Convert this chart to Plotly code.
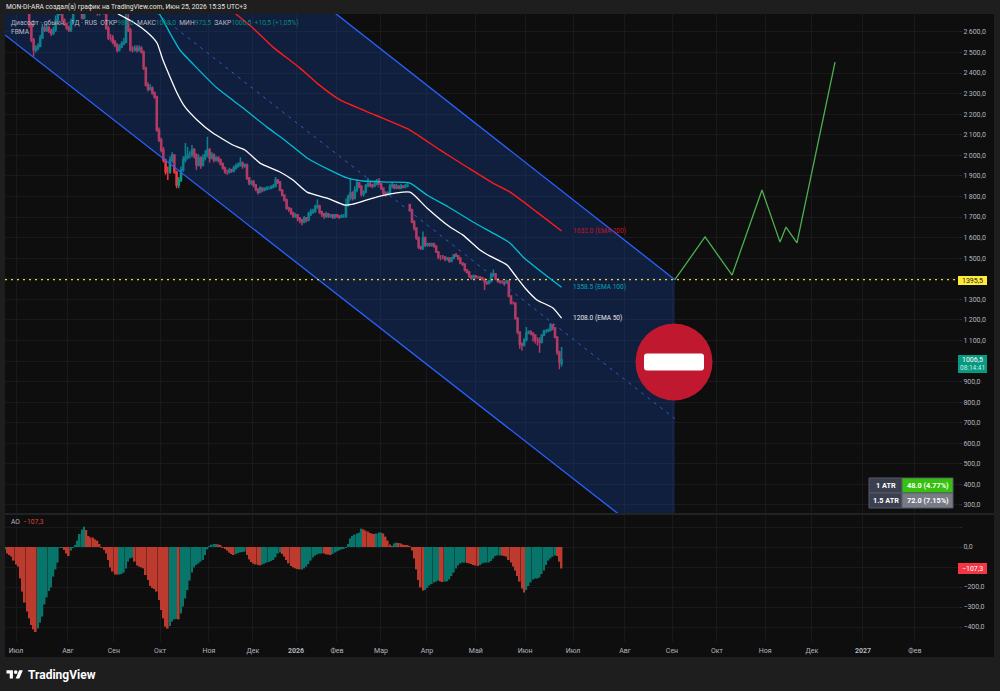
import plotly.graph_objects as go

W, H = 1000, 691

# Daily OHLC for the stock, one row of ten sessions per source line
opens = [
 2760,2780,2800,2770,2790,2820,2810,2790,2800,2770,
 2745,2720,2633,2560,2512,2522,2531,2570,2619,2609,
 2619,2604,2594,2609,2658,2687,2706,2658,2638,2619,
 2609,2648,2697,2720,2740,2700,2667,2710,2730,2715,
 2735,2700,2720,2690,2700,2720,2690,2619,2570,2570,
 2550,2536,2512,2526,2541,2550,2658,2609,2512,2512,
 2521,2512,2521,2502,2424,2342,2322,2327,2303,2283,
 2123,2074,2026,1977,1919,1919,1977,2001,1919,1856,
 1880,1928,1977,1991,2001,2001,2026,2001,1953,1987,
 1953,1987,2001,2026,1987,2001,1977,1987,1977,1958,
 1938,1919,1919,1928,1924,1938,1948,1953,1962,1948,
 1953,1890,1865,1870,1856,1836,1821,1841,1831,1836,
 1841,1841,1846,1851,1880,1870,1831,1807,1783,1744,
 1739,1720,1705,1710,1695,1685,1676,1695,1685,1715,
 1725,1729,1749,1754,1725,1715,1705,1715,1705,1710,
 1700,1710,1705,1700,1705,1705,1758,1797,1817,1792,
 1831,1865,1851,1812,1822,1851,1860,1855,1851,1860,
 1875,1860,1841,1817,1812,1817,1851,1855,1841,1851,
 1841,1851,1846,1851,1760,1734,1676,1646,1598,1554,
 1549,1598,1564,1569,1564,1569,1559,1530,1505,1505,
 1505,1496,1500,1486,1500,1515,1510,1500,1476,1471,
 1442,1432,1413,1403,1413,1408,1408,1403,1399,1384,
 1379,1389,1418,1423,1399,1389,1384,1384,1379,1389,
 1316,1282,1282,1209,1141,1083,1078,1102,1136,1141,
 1136,1126,1102,1102,1092,1126,1146,1146,1150,1175,
 1160,1116,1044,988,
]
highs = [
 2800,2820,2815,2805,2835,2835,2815,2815,2805,2780,
 2760,2730,2640,2570,2535,2545,2585,2640,2635,2640,
 2630,2615,2625,2680,2720,2730,2715,2665,2645,2630,
 2665,2720,2735,2755,2750,2710,2725,2745,2740,2750,
 2750,2735,2730,2710,2735,2730,2700,2630,2590,2585,
 2560,2545,2540,2555,2570,2720,2700,2620,2530,2535,
 2535,2535,2530,2510,2430,2355,2345,2335,2310,2290,
 2135,2085,2040,1985,1945,1995,2015,2005,1925,1895,
 1945,1995,2060,2040,2020,2050,2035,2010,2005,1995,
 2005,2025,2090,2035,2015,2010,1995,1995,1985,1965,
 1945,1930,1940,1935,1950,1960,1965,1990,1970,1960,
 1960,1895,1880,1880,1860,1840,1850,1845,1845,1850,
 1850,1855,1860,1895,1885,1875,1835,1810,1790,1750,
 1745,1725,1720,1715,1700,1690,1705,1700,1725,1740,
 1740,1760,1785,1760,1730,1720,1725,1720,1715,1715,
 1715,1715,1710,1715,1715,1790,1810,1890,1825,1850,
 1885,1870,1855,1830,1860,1890,1870,1860,1870,1885,
 1890,1865,1845,1825,1825,1860,1870,1860,1860,1855,
 1860,1855,1860,1870,1765,1740,1685,1650,1605,1560,
 1630,1605,1575,1575,1575,1575,1563,1535,1515,1515,
 1510,1505,1505,1505,1520,1525,1515,1505,1480,1475,
 1447,1437,1418,1420,1418,1415,1410,1408,1402,1388,
 1395,1430,1445,1428,1402,1393,1392,1388,1395,1392,
 1320,1290,1285,1212,1145,1090,1110,1165,1150,1150,
 1140,1130,1115,1115,1130,1152,1155,1158,1185,1180,
 1165,1120,1050,1068,
]
lows = [
 2750,2760,2765,2765,2785,2800,2785,2785,2765,2740,
 2710,2620,2550,2480,2500,2510,2525,2565,2600,2600,
 2595,2580,2585,2600,2650,2680,2650,2630,2610,2600,
 2600,2640,2690,2712,2690,2660,2660,2700,2705,2705,
 2690,2695,2680,2680,2695,2685,2610,2560,2555,2540,
 2525,2500,2505,2520,2535,2545,2600,2505,2500,2505,
 2500,2505,2495,2415,2335,2310,2315,2295,2275,2115,
 2065,2015,1965,1905,1880,1910,1965,1910,1840,1840,
 1870,1920,1965,1980,1985,1990,1985,1930,1945,1935,
 1945,1975,1990,1965,1980,1965,1970,1965,1950,1930,
 1910,1905,1910,1915,1918,1930,1940,1945,1935,1940,
 1880,1855,1855,1845,1825,1810,1815,1820,1825,1830,
 1832,1835,1840,1845,1860,1825,1800,1775,1735,1725,
 1710,1695,1695,1680,1670,1660,1670,1675,1680,1705,
 1715,1720,1740,1715,1700,1690,1695,1695,1695,1690,
 1692,1695,1690,1695,1695,1695,1750,1780,1780,1785,
 1820,1840,1800,1800,1815,1845,1845,1840,1845,1855,
 1855,1830,1805,1800,1805,1810,1840,1835,1835,1835,
 1835,1840,1840,1845,1725,1670,1635,1590,1545,1540,
 1540,1555,1555,1555,1555,1550,1525,1495,1490,1495,
 1485,1488,1478,1480,1495,1505,1490,1470,1462,1435,
 1425,1405,1395,1398,1400,1400,1395,1390,1345,1370,
 1372,1382,1410,1392,1380,1375,1375,1370,1375,1310,
 1275,1275,1200,1130,1060,1050,1070,1095,1130,1125,
 1095,1085,1075,1040,1085,1120,1135,1140,1145,1150,
 1110,1030,960,973.5,
]
closes = [
 2780,2800,2770,2790,2820,2810,2790,2800,2770,2745,
 2720,2633,2560,2512,2522,2531,2570,2619,2609,2619,
 2604,2594,2609,2658,2687,2706,2658,2638,2619,2609,
 2648,2697,2720,2740,2700,2667,2710,2730,2715,2735,
 2700,2720,2690,2700,2720,2690,2619,2570,2570,2550,
 2536,2512,2526,2541,2550,2658,2609,2512,2512,2521,
 2512,2521,2502,2424,2342,2322,2327,2303,2283,2123,
 2074,2026,1977,1919,1919,1977,2001,1919,1856,1880,
 1928,1977,1991,2001,2001,2026,2001,1953,1987,1953,
 1987,2001,2026,1987,2001,1977,1987,1977,1958,1938,
 1919,1919,1928,1924,1938,1948,1953,1962,1948,1953,
 1890,1865,1870,1856,1836,1821,1841,1831,1836,1841,
 1841,1846,1851,1880,1870,1831,1807,1783,1744,1739,
 1720,1705,1710,1695,1685,1676,1695,1685,1715,1725,
 1729,1749,1754,1725,1715,1705,1715,1705,1710,1700,
 1710,1705,1700,1705,1705,1758,1797,1817,1792,1831,
 1865,1851,1812,1822,1851,1860,1855,1851,1860,1875,
 1860,1841,1817,1812,1817,1851,1855,1841,1851,1841,
 1851,1846,1851,1855,1734,1676,1646,1598,1554,1549,
 1598,1564,1569,1564,1569,1559,1530,1505,1505,1505,
 1496,1500,1486,1500,1515,1510,1500,1476,1471,1442,
 1432,1413,1403,1413,1408,1408,1403,1399,1384,1379,
 1389,1418,1423,1399,1389,1384,1384,1379,1389,1316,
 1282,1282,1209,1141,1083,1078,1102,1136,1141,1136,
 1126,1102,1102,1092,1126,1146,1146,1150,1175,1160,
 1116,1044,996,1006.5,
]

# Awesome Oscillator, one value per session
ao_values = [
 -12,-32,-40,-48,-68,-87,-98,-157,-223,-278,
 -323,-357,-390,-412,-425,-407,-378,-348,-287,-252,
 -220,-202,-148,-112,-78,-5,-3,-15,-32,-45,
 -18,-2,10,32,65,88,102,85,55,48,
 47,38,32,15,-2,-15,-32,-65,-102,-123,
 -137,-138,-138,-135,-128,-107,-73,-57,-53,-73,
 -93,-98,-102,-107,-140,-165,-195,-205,-210,-223,
 -265,-315,-357,-398,-408,-395,-373,-362,-360,-362,
 -332,-298,-257,-215,-168,-128,-102,-90,-82,-73,
 -65,-40,-12,2,12,15,15,13,8,-2,
 -8,-18,-28,-35,-40,-35,-30,-27,-25,-23,
 -40,-62,-75,-83,-87,-90,-92,-88,-83,-78,
 -75,-70,-65,-52,-33,-28,-35,-48,-65,-82,
 -95,-102,-107,-110,-112,-112,-107,-98,-85,-68,
 -53,-43,-37,-33,-32,-33,-37,-38,-40,-35,
 -28,-22,-17,-12,-7,-2,15,43,55,62,
 67,72,92,88,82,77,70,67,65,68,
 72,72,68,52,32,13,2,18,22,20,
 17,12,10,8,5,-18,-57,-112,-165,-202,
 -218,-215,-205,-192,-185,-178,-173,-168,-172,-175,
 -173,-172,-162,-145,-128,-107,-92,-82,-78,-78,
 -80,-82,-85,-90,-93,-95,-90,-83,-78,-78,
 -77,-70,-58,-45,-42,-42,-43,-45,-48,-65,
 -78,-98,-118,-145,-173,-207,-227,-215,-195,-177,
 -162,-158,-158,-153,-135,-118,-90,-68,-57,-48,
 -42,-45,-73,-107.3,
]

# Moving averages as (session, price) vertices
ema50_x = [45.5,52.3,58.2,64.5,69.1,71.8,75,78.2,81.8,87.3,94.5,103.6,109.1,115.9,125,130.9,137.3,146.4,154.5,158.2,170.5,184.1,191.8,202.3,208.2,215.9,220.5,228.2,231.8,236.4,241.8,249.1,253]
ema50_y = [2730,2682,2648,2599,2546,2463,2381,2303,2235,2172,2108,2050,2026,1962,1919,1880,1821,1792,1758,1763,1802,1821,1744,1651,1612,1540,1510,1467,1418,1355,1297,1258,1208.0]
ema100_x = [66.8,70.5,75,79.5,87.3,96.4,108.2,119.1,128.2,137.3,147.7,155.5,162.7,175,184.1,191.8,202.3,212.7,221.8,229.5,235.5,244.5,253]
ema100_y = [2730,2682,2594,2512,2424,2327,2230,2137,2065,1987,1928,1890,1875,1870,1865,1807,1744,1676,1622,1574,1506,1428,1358.5]
ema200_x = [100,105.5,112.7,121.8,134.1,141.8,152.3,168.2,184.1,197.7,210,221.8,229.5,241.8,253]
ema200_y = [2730,2682,2619,2526,2424,2351,2269,2196,2123,2026,1943,1865,1822,1724,1632.0]

# Descending channel edges, and the drawn forecast path
channel_x = [0, 304.5]
channel_upper = [3950, 1395.5]
channel_middle = [3268, 719]
channel_lower = [2585, 42]
forecast_x = [304.5,318.2,330.5,344.1,352.3,355,360,377.3]
forecast_y = [1395.5,1603,1418,1831,1578,1651,1574,2453]
level_price = 1395.5

# Axis labels
month_ticks = [5,28.6,49.5,70.5,92.7,112.7,132.3,150.9,170.9,191.8,214,236.4,258.2,281.8,303.2,323.6,345.5,366.8,390,413.6]
month_labels = ["Июл","Авг","Сен","Окт","Ноя","Дек","<b>2026</b>","Фев","Мар","Апр","Май","Июн","Июл","Авг","Сен","Окт","Ноя","Дек","<b>2027</b>","Фев"]
price_ticks = list(range(300, 2700, 100))
covered_prices = [1000, 1400]  # these labels sit behind the price tags
ao_ticks = [100, 0, -100, -200, -300, -400]
ao_labels = ["", "0,0", "", "−200,0", "−300,0", "−400,0"]

UP, DOWN = "#089981", "#f23645"
FONT = "Roboto, sans-serif"
GRID = "#19191b"
TXT = "#b2b5be"
SMALL = 6.8


def px(v):
    return v / W


def py(v):
    return 1 - v / H


def price_label(v):
    return f"{v:,.1f}".replace(",", "\u2009").replace(".", ",")


def tag_label(v):
    return f"{v:.1f}".replace(".", ",").replace("-", "−")


sessions = list(range(len(closes)))
fig = go.Figure()

fig.add_trace(go.Scatter(
    x=[channel_x[0], channel_x[1], channel_x[1], channel_x[0]],
    y=[channel_upper[0], channel_upper[1], channel_lower[1], channel_lower[0]],
    mode="none", fill="toself", fillcolor="rgba(27,74,177,0.30)", hoverinfo="skip"))
fig.add_trace(go.Scatter(x=channel_x, y=channel_upper, mode="lines", line=dict(color="#2962ff", width=1.3)))
fig.add_trace(go.Scatter(x=channel_x, y=channel_lower, mode="lines", line=dict(color="#2962ff", width=1.3)))
fig.add_trace(go.Scatter(x=channel_x, y=channel_middle, mode="lines",
                         line=dict(color="#2f5cd0", width=1, dash="3px,5px")))
fig.add_trace(go.Scatter(x=[0, 433.2], y=[level_price, level_price], mode="lines",
                         line=dict(color="#e6dc32", width=1.2, dash="2px,4px")))
fig.add_trace(go.Scatter(x=ema200_x, y=ema200_y, mode="lines",
                         line=dict(color="#ff1a1a", width=1.4, shape="spline", smoothing=0.5)))
fig.add_trace(go.Scatter(x=ema100_x, y=ema100_y, mode="lines",
                         line=dict(color="#00bcd4", width=1.3, shape="spline", smoothing=0.5)))
fig.add_trace(go.Scatter(x=ema50_x, y=ema50_y, mode="lines",
                         line=dict(color="#ffffff", width=1.3, shape="spline", smoothing=0.5)))
fig.add_trace(go.Candlestick(
    x=sessions, open=opens, high=highs, low=lows, close=closes, whiskerwidth=0,
    increasing=dict(line=dict(color=UP, width=1.5), fillcolor=UP),
    decreasing=dict(line=dict(color=DOWN, width=1.5), fillcolor=DOWN)))
fig.add_trace(go.Scatter(x=forecast_x, y=forecast_y, mode="lines", line=dict(color="#4caf50", width=1.3)))

# Oscillator histogram: red while falling, teal while rising
ao_colors = ["#bd3a2e" if i and ao_values[i] < ao_values[i - 1] else "#08756a" for i in sessions]
fig.add_trace(go.Bar(x=sessions, y=ao_values, marker=dict(color=ao_colors, line=dict(width=0)),
                     xaxis="x2", yaxis="y2"))

axis_common = dict(showline=False, zeroline=False, gridcolor=GRID, gridwidth=1)
tick_font = dict(family=FONT, size=7, color=TXT)
x_range = [0, 433.2]
x_domain = [px(5), px(958)]

shapes = [
    dict(type="rect", xref="paper", yref="paper", x0=px(5), x1=px(994), y0=py(657), y1=py(14),
         fillcolor="#0e0e0e", line=dict(width=0), layer="below"),
    dict(type="line", xref="paper", yref="paper", x0=px(5), x1=px(994), y0=py(514), y1=py(514),
         line=dict(color="#2a2a2c", width=1.5), layer="below"),
    # "No entry" sign
    dict(type="circle", xref="paper", yref="paper", x0=px(635.5), x1=px(712.5), y0=py(400.5), y1=py(323.5),
         fillcolor="#c0192f", line=dict(width=0)),
    dict(type="path", xref="paper", yref="paper",
         path=(f"M{px(647)},{py(353.5)} L{px(701)},{py(353.5)} Q{px(704)},{py(353.5)} {px(704)},{py(356.5)} "
               f"L{px(704)},{py(367.5)} Q{px(704)},{py(370.5)} {px(701)},{py(370.5)} L{px(647)},{py(370.5)} "
               f"Q{px(644)},{py(370.5)} {px(644)},{py(367.5)} L{px(644)},{py(356.5)} Q{px(644)},{py(353.5)} {px(647)},{py(353.5)} Z"),
         fillcolor="#ffffff", line=dict(width=0)),
]


def box(x0, y0, x1, y1, fill, border=None):
    shapes.append(dict(type="rect", xref="paper", yref="paper", x0=px(x0), x1=px(x1), y0=py(y1), y1=py(y0),
                       fillcolor=fill, line=dict(color=border, width=1) if border else dict(width=0)))


box(958, 276, 987, 285, "#ffeb3b")
box(958, 355, 987, 373, "#089981")
box(958, 563, 987, 574, "#f23645")
box(869, 478, 902, 493, "#3b3f4e", "#555a68")
box(869, 493, 902, 508, "#3b3f4e", "#555a68")
box(902, 478, 953, 493, "#36c10f", "#555a68")
box(902, 493, 953, 508, "#787b86", "#555a68")


# TradingView mark in the footer
def logo_pt(x, y):
    return f"{px(6.5 + x * 0.46)},{py(668.4 + y * 0.46)}"


shapes.append(dict(type="path", xref="paper", yref="paper", fillcolor="#ffffff", line=dict(width=0),
                   path="M" + " L".join(logo_pt(*p) for p in [(0, 4), (14, 4), (14, 22), (7, 22), (7, 11), (0, 11)]) + " Z"))
shapes.append(dict(type="path", xref="paper", yref="paper", fillcolor="#ffffff", line=dict(width=0),
                   path="M" + " L".join(logo_pt(*p) for p in [(27.5, 4), (35.5, 4), (28, 22), (20, 22)]) + " Z"))
shapes.append(dict(type="circle", xref="paper", yref="paper", fillcolor="#ffffff", line=dict(width=0),
                   x0=px(6.5 + 16 * 0.46), x1=px(6.5 + 24 * 0.46), y0=py(668.4 + 12 * 0.46), y1=py(668.4 + 4 * 0.46)))

annotations = []


def text(x, y, s, color=TXT, size=SMALL, anchor="left", font=FONT):
    annotations.append(dict(xref="paper", yref="paper", x=px(x), y=py(y), text=s, showarrow=False,
                            xanchor=anchor, yanchor="middle", align=anchor, borderpad=0,
                            font=dict(family=font, size=size, color=color)))


text(5, 7, "MON-DI-ARA создал(а) график на TradingView.com, Июн 25, 2026 15:35 UTC+3", "#e6e6e6", 6.7)
teal = "#0b8a78"
text(10, 23, ("Диасофт · обыкн. · 1Д · RUS  ОТКР<span style='color:%s'>988,0</span>  МАКС<span style='color:%s'>1068,0</span>"
              "  МИН<span style='color:%s'>973,5</span>  ЗАКР<span style='color:%s'>1006,5  +10,5 (+1,05%%)</span>") % (teal, teal, teal, teal),
     "#b8bac2", 6.7)
text(10, 32, "FBMA", "#b8bac2", 6.7)
text(10, 522, "AO  <span style='color:#d8453a'>−107,3</span>", "#b8bac2", 6.7)

text(972.5, 280.5, tag_label(level_price), "#222222", 7, "center")
text(972.5, 360, tag_label(closes[-1]), "#ffffff", 7, "center")
text(972.5, 368, "08:14:41", "#c8eee6", 6.5, "center")
text(972.5, 568.5, tag_label(ao_values[-1]), "#ffffff", 7, "center")

text(885.5, 485.5, "<b>1 ATR</b>", "#ffffff", 7.3, "center")
text(885.5, 500.5, "<b>1.5 ATR</b>", "#ffffff", 7.3, "center")
text(927.5, 485.5, "<b>48.0 (4.77%)</b>", "#ffffff", 7.3, "center")
text(927.5, 500.5, "<b>72.0 (7.15%)</b>", "#ffffff", 7.3, "center")

text(27, 674.5, "<b>TradingView</b>", "#ffffff", 12)

# End-of-line labels for the three averages
for xs, ys, name, color in [(ema200_x, ema200_y, "EMA 200", "#c4121c"),
                            (ema100_x, ema100_y, "EMA 100", "#00a5ba"),
                            (ema50_x, ema50_y, "EMA 50", "#e8e8e8")]:
    annotations.append(dict(xref="x", yref="y", x=xs[-1], y=ys[-1], xshift=9, showarrow=False,
                            xanchor="left", yanchor="middle", text=f"{ys[-1]:.1f} ({name})",
                            font=dict(family=FONT, size=6.6, color=color)))

fig.update_layout(
    width=W, height=H, autosize=False, showlegend=False, bargap=0.25,
    margin=dict(l=0, r=0, t=0, b=0),
    paper_bgcolor="#1e1e1e", plot_bgcolor="rgba(0,0,0,0)",
    font=dict(family=FONT, color=TXT),
    xaxis=dict(domain=x_domain, range=x_range, anchor="y", tickvals=month_ticks, showticklabels=False,
               rangeslider=dict(visible=False), ticks="", **axis_common),
    yaxis=dict(domain=[py(513), py(14)], range=[261, 2687], anchor="x", side="right",
               tickvals=price_ticks,
               ticktext=["" if v in covered_prices else price_label(v) for v in price_ticks],
               tickfont=tick_font, ticks="outside", ticklen=3, tickcolor="#2a2a2c", **axis_common),
    xaxis2=dict(domain=x_domain, range=x_range, anchor="y2", tickvals=month_ticks, ticktext=month_labels,
                tickfont=tick_font, ticks="", tickangle=0, ticklabelstandoff=3, **axis_common),
    yaxis2=dict(domain=[py(642), py(515)], range=[-475, 160], anchor="x2", side="right",
                tickvals=ao_ticks, ticktext=ao_labels, tickfont=tick_font,
                ticks="outside", ticklen=3, tickcolor="#2a2a2c", **axis_common),
    shapes=shapes, annotations=annotations,
)

fig.write_html("out.html")
